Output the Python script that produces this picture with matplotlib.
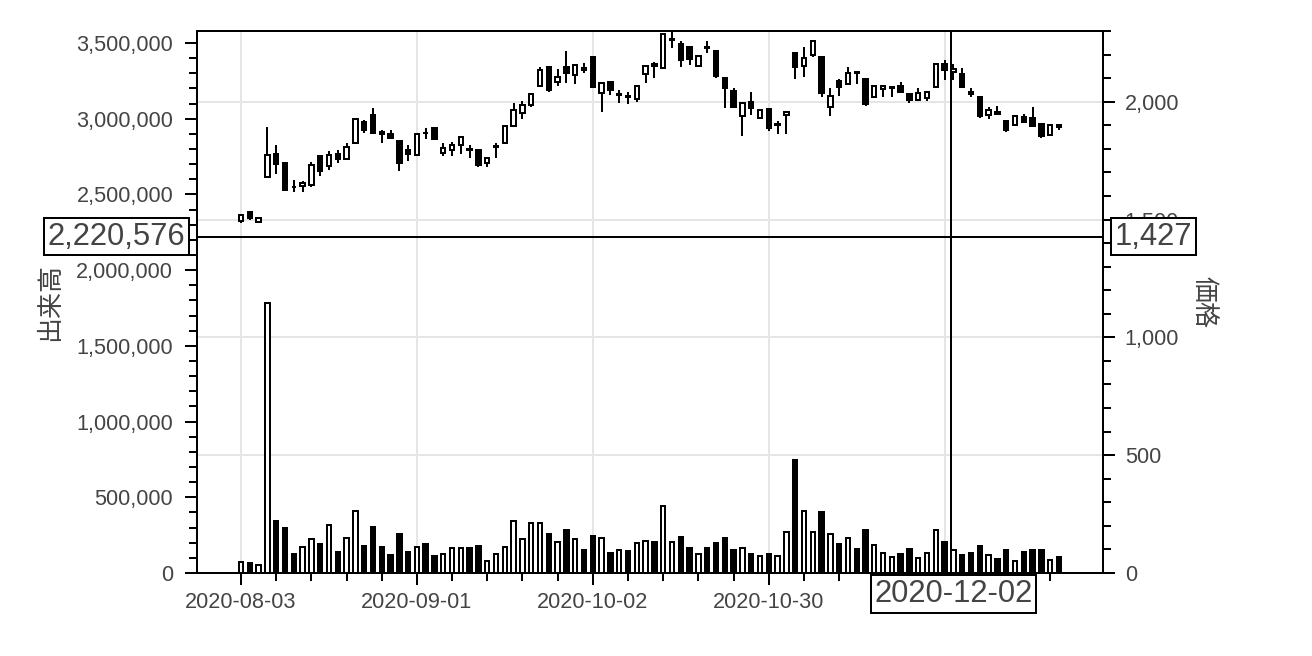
import matplotlib
matplotlib.use('Agg')
import matplotlib.pyplot as plt
import numpy as np
from matplotlib.ticker import FuncFormatter, FixedLocator, MultipleLocator

plt.rcParams['font.family'] = ['Liberation Sans', 'Noto Sans CJK JP', 'DejaVu Sans']

# ---- data (trading-day index 0 = 2020-08-03) ----
opens = [1492, 1530, 1490, 1681, 1776, 1741, 1640, 1641, 1645, 1769,
         1726, 1776, 1755, 1826, 1915, 1943, 1872, 1865, 1833, 1794,
         1773, 1869, 1887, 1783, 1797, 1816, 1800, 1794, 1741, 1806,
         1823, 1896, 1950, 1986, 2067, 2146, 2085, 2146, 2113, 2142,
         2189, 2038, 2085, 2028, 2025, 2010, 2118, 2160, 2145, 2260,
         2245, 2234, 2152, 2234, 2216, 2099, 2047, 1939, 2000, 1929,
         1967, 1899, 1942, 2208, 2152, 2198, 2189, 1979, 2089, 2075,
         2128, 2095, 2018, 2052, 2060, 2067, 2031, 2007, 2014, 2061,
         2160, 2128, 2118, 2040, 2021, 1943, 1957, 1919, 1901, 1933,
         1929, 1905, 1858, 1901]
highs = [1523, 1535, 1510, 1891, 1816, 1745, 1667, 1664, 1745, 1773,
         1792, 1794, 1823, 1929, 1922, 1972, 1882, 1879, 1837, 1816,
         1865, 1887, 1890, 1826, 1830, 1854, 1816, 1801, 1766, 1823,
         1901, 1996, 2004, 2038, 2149, 2152, 2138, 2217, 2160, 2163,
         2191, 2081, 2089, 2050, 2043, 2071, 2156, 2170, 2290, 2305,
         2259, 2237, 2197, 2259, 2220, 2102, 2057, 2000, 2043, 1968,
         1970, 1919, 1959, 2213, 2231, 2262, 2191, 2057, 2095, 2146,
         2130, 2097, 2071, 2071, 2067, 2085, 2035, 2057, 2045, 2163,
         2177, 2160, 2142, 2057, 2024, 1979, 1981, 1920, 1941, 1947,
         1979, 1906, 1903, 1903]
lows = [1485, 1500, 1488, 1678, 1695, 1621, 1617, 1617, 1640, 1684,
        1712, 1740, 1752, 1820, 1868, 1862, 1823, 1844, 1706, 1749,
        1769, 1840, 1838, 1769, 1769, 1777, 1763, 1723, 1721, 1763,
        1820, 1891, 1925, 1979, 2061, 2043, 2067, 2078, 2075, 2123,
        2057, 1957, 2028, 1996, 1990, 2000, 2078, 2099, 2142, 2227,
        2146, 2156, 2150, 2208, 2099, 1974, 1976, 1854, 1943, 1926,
        1877, 1865, 1865, 2095, 2106, 2189, 2018, 1939, 2024, 2071,
        2075, 1982, 2014, 2018, 2021, 2038, 1996, 2004, 2004, 2058,
        2092, 2092, 2060, 2021, 1932, 1926, 1946, 1872, 1898, 1914,
        1894, 1844, 1855, 1879]
closes = [1520, 1505, 1508, 1773, 1735, 1627, 1636, 1655, 1731, 1706,
          1773, 1755, 1806, 1925, 1882, 1868, 1861, 1847, 1738, 1776,
          1861, 1866, 1840, 1802, 1818, 1851, 1794, 1731, 1762, 1811,
          1896, 1965, 1986, 2033, 2135, 2050, 2106, 2123, 2156, 2135,
          2064, 2078, 2050, 2033, 2021, 2068, 2152, 2152, 2288, 2265,
          2177, 2180, 2194, 2227, 2109, 2057, 1979, 1996, 1972, 1965,
          1887, 1905, 1956, 2146, 2184, 2259, 2038, 2024, 2061, 2121,
          2123, 1990, 2067, 2067, 2064, 2043, 2007, 2035, 2043, 2160,
          2135, 2137, 2064, 2033, 1939, 1965, 1948, 1879, 1939, 1915,
          1896, 1854, 1901, 1891]
volumes = [70300, 63700, 55000, 1781800, 345000, 298800, 123000, 173600, 226300, 191100,
           314200, 136200, 228500, 406400, 175800, 301000, 169200, 120800, 254900, 140600,
           173600, 188900, 112000, 123000, 162600, 162600, 162600, 175800, 81300, 125200,
           173600, 340500, 221900, 329600, 329600, 254900, 206500, 285600, 221900, 149400,
           241700, 232900, 131800, 149400, 147200, 195500, 208700, 202100, 439400, 206500,
           235100, 167000, 125200, 162600, 195500, 232900, 151600, 162600, 125200, 114200,
           125200, 109900, 268000, 745000, 406400, 271000, 399900, 254900, 191100, 228500,
           158200, 281200, 184500, 129600, 105500, 123000, 156000, 96700, 129600, 281200,
           206500, 149400, 118600, 134000, 175800, 116400, 92300, 151600, 81300, 138400,
           153800, 151600, 85700, 103300]

tick_index = [0, 20, 40, 60, 80]
tick_labels = ['2020-08-03', '2020-09-01', '2020-10-02', '2020-10-30', '2020-12-01']

cross_x = 80.7
cross_date = '2020-12-02'
cross_volume = 2220576
cross_price_label = '1,427'

# ---- figure ----
PX = 0.72  # points per pixel at dpi 100
fig = plt.figure(figsize=(13.12, 6.56), dpi=100)
ax = fig.add_axes([197 / 1312, 1 - 573 / 656, 906 / 1312, 542 / 656])  # price
ax2 = ax.twinx()                                                      # volume

o = np.array(opens, float)
h = np.array(highs, float)
l = np.array(lows, float)
c = np.array(closes, float)
v = np.array(volumes, float)
x = np.arange(len(o))
up = c >= o
fills = ['white' if u else 'black' for u in up]

LW = 2 * PX
# candles on price axis
ax.vlines(x, l, h, color='black', lw=LW, zorder=2)
ax.bar(x, np.abs(c - o), bottom=np.minimum(o, c), width=0.5, color=fills,
       edgecolor='black', linewidth=LW, zorder=3)
# volume bars
ax2.bar(x, v, width=0.5, color=fills, edgecolor='black', linewidth=LW, zorder=2)

ax.set_xlim(-5, 98)
ax.set_ylim(0, 2300)
ax2.set_ylim(0, 3579000)

# positions of axes
ax.yaxis.tick_right()
ax.yaxis.set_label_position('right')
ax2.yaxis.tick_left()
ax2.yaxis.set_label_position('left')

TXT = '#444444'
TICKFS = 15.6

# x ticks
ax.xaxis.set_major_locator(FixedLocator(tick_index))
ax.set_xticklabels(tick_labels)
ax.xaxis.set_minor_locator(FixedLocator([i for i in range(0, 93, 4) if i % 20 != 0]))
ax.tick_params(axis='x', which='major', length=12 * PX, width=LW, pad=5,
               labelsize=TICKFS, labelcolor=TXT, color='black')
ax.tick_params(axis='x', which='minor', length=8 * PX, width=LW, color='black')

# price (right)
ax.yaxis.set_major_locator(MultipleLocator(500))
ax.yaxis.set_minor_locator(MultipleLocator(100))
ax.yaxis.set_major_formatter(FuncFormatter(lambda val, pos: f'{val:,.0f}'))
ax.tick_params(axis='y', which='major', length=12 * PX, width=LW, pad=7,
               labelsize=TICKFS, labelcolor=TXT, color='black')
ax.tick_params(axis='y', which='minor', length=8 * PX, width=LW, color='black')

# volume (left)
ax2.yaxis.set_major_locator(MultipleLocator(500000))
ax2.yaxis.set_minor_locator(MultipleLocator(100000))
ax2.yaxis.set_major_formatter(FuncFormatter(lambda val, pos: f'{val:,.0f}'))
ax2.tick_params(axis='y', which='major', length=12 * PX, width=LW, pad=8.5,
                labelsize=TICKFS, labelcolor=TXT, color='black')
ax2.tick_params(axis='y', which='minor', length=8 * PX, width=LW, color='black')

# grid
ax.set_axisbelow(True)
ax.grid(True, which='major', color='#e5e5e5', lw=LW)
ax2.grid(False)

for a in (ax, ax2):
    for s in a.spines.values():
        s.set_color('black')
        s.set_linewidth(LW)

ax2.set_ylabel('出来高', fontsize=18.7, color=TXT, labelpad=10)
ax.set_ylabel('価格', fontsize=18.7, color=TXT, rotation=270, va='bottom', labelpad=9)

# crosshair
ax2.axvline(cross_x, color='black', lw=LW, zorder=10)
ax2.axhline(cross_volume, color='black', lw=LW, zorder=10)

import matplotlib.transforms as mt
LBLFS = 22.3
box = dict(boxstyle='square,pad=0.12', fc='white', ec='black', lw=LW)
tr_left = mt.blended_transform_factory(ax2.transAxes, ax2.transData)
ax2.text((185 - 197) / 906, cross_volume, f'{cross_volume:,}', transform=tr_left,
         ha='right', va='center', fontsize=LBLFS, color=TXT, bbox=box,
         clip_on=False, zorder=11)
ax2.text((1115 - 197) / 906, cross_volume, cross_price_label, transform=tr_left,
         ha='left', va='center', fontsize=LBLFS, color=TXT, bbox=box,
         clip_on=False, zorder=11)
tr_bot = mt.blended_transform_factory(ax2.transData, ax2.transAxes)
ax2.text(81.0, (573 - 579) / 542, cross_date, transform=tr_bot,
         ha='center', va='top', fontsize=LBLFS, color=TXT, bbox=box,
         clip_on=False, zorder=11)

fig.savefig('out.png', dpi=100)
